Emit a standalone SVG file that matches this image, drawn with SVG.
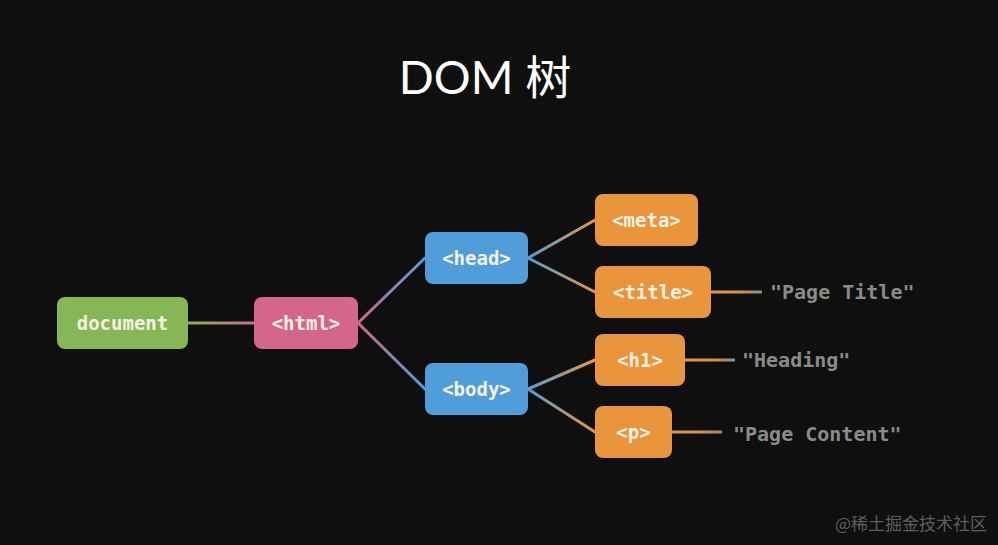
<svg xmlns="http://www.w3.org/2000/svg" width="998" height="545" viewBox="0 0 998 545">
<defs>
<style>
.g{fill:#87b657}
.p{fill:#d4668b}
.b{fill:#4f9ed9}
.o{fill:#e8953c}
.t{font-family:"DejaVu Sans Mono","Liberation Mono",monospace;font-weight:bold;font-size:19px;fill:#f6f1e3;text-anchor:middle;dominant-baseline:central}
.s{font-family:"DejaVu Sans Mono","Liberation Mono",monospace;font-weight:bold;font-size:20px;fill:#8a8a8a;dominant-baseline:central}
.c{fill:none;stroke-width:3;stroke-linecap:round}
.e{fill:none;stroke-width:3}
</style>
<linearGradient id="gp" gradientUnits="userSpaceOnUse" x1="188" y1="0" x2="254" y2="0"><stop offset="0" stop-color="#87b657"/><stop offset="1" stop-color="#d4668b"/></linearGradient>
<linearGradient id="pbh" gradientUnits="userSpaceOnUse" x1="358" y1="323" x2="425" y2="258"><stop offset="0" stop-color="#d4668b"/><stop offset="1" stop-color="#4f9ed9"/></linearGradient>
<linearGradient id="pbb" gradientUnits="userSpaceOnUse" x1="358" y1="323" x2="425" y2="389"><stop offset="0" stop-color="#d4668b"/><stop offset="1" stop-color="#4f9ed9"/></linearGradient>
<linearGradient id="bo" gradientUnits="userSpaceOnUse" x1="528" y1="0" x2="595" y2="0"><stop offset="0" stop-color="#4f9ed9"/><stop offset="1" stop-color="#e8953c"/></linearGradient>
<linearGradient id="og1" gradientUnits="userSpaceOnUse" x1="711" y1="0" x2="762" y2="0"><stop offset="0" stop-color="#e8953c"/><stop offset="0.6" stop-color="#d49048"/><stop offset="1" stop-color="#8a8a8a"/></linearGradient>
<linearGradient id="og2" gradientUnits="userSpaceOnUse" x1="685" y1="0" x2="735" y2="0"><stop offset="0" stop-color="#e8953c"/><stop offset="0.6" stop-color="#d49048"/><stop offset="1" stop-color="#8a8a8a"/></linearGradient>
<linearGradient id="og3" gradientUnits="userSpaceOnUse" x1="672" y1="0" x2="722" y2="0"><stop offset="0" stop-color="#e8953c"/><stop offset="0.6" stop-color="#d49048"/><stop offset="1" stop-color="#8a8a8a"/></linearGradient>
</defs>
<rect width="998" height="545" fill="#0f0f10"/>
<text x="485" y="94" font-family="Lato,'Noto Sans','Noto Sans CJK SC',sans-serif" font-size="46" fill="#ffffff" text-anchor="middle">DOM 树</text>
<g id="connectors">
<line class="c" x1="188" y1="323" x2="254" y2="323" stroke="url(#gp)"/>
<line class="c" x1="358" y1="323" x2="425" y2="258" stroke="url(#pbh)"/>
<line class="c" x1="358" y1="323" x2="425" y2="389" stroke="url(#pbb)"/>
<line class="c" x1="528" y1="258" x2="595" y2="220" stroke="url(#bo)"/>
<line class="c" x1="528" y1="258" x2="595" y2="292" stroke="url(#bo)"/>
<line class="c" x1="528" y1="389" x2="595" y2="360" stroke="url(#bo)"/>
<line class="c" x1="528" y1="389" x2="595" y2="432" stroke="url(#bo)"/>
<line class="e" x1="711" y1="292" x2="762" y2="292" stroke="url(#og1)"/>
<line class="e" x1="685" y1="360" x2="735" y2="360" stroke="url(#og2)"/>
<line class="e" x1="672" y1="432" x2="722" y2="432" stroke="url(#og3)"/>
</g>
<g id="document"><rect class="g" x="57" y="297" width="131" height="52" rx="8"/><text class="t" x="122.5" y="323">document</text></g>
<g id="html"><rect class="p" x="254" y="297" width="104" height="52" rx="8"/><text class="t" x="306" y="323">&lt;html&gt;</text></g>
<g id="head"><rect class="b" x="425" y="232" width="103" height="52" rx="8"/><text class="t" x="476.5" y="258">&lt;head&gt;</text></g>
<g id="body"><rect class="b" x="425" y="363" width="103" height="52" rx="8"/><text class="t" x="476.5" y="389">&lt;body&gt;</text></g>
<g id="meta"><rect class="o" x="595" y="194" width="103" height="52" rx="8"/><text class="t" x="646.5" y="220">&lt;meta&gt;</text></g>
<g id="title"><rect class="o" x="595" y="266" width="116" height="52" rx="8"/><text class="t" x="653" y="292">&lt;title&gt;</text></g>
<g id="h1"><rect class="o" x="595" y="334" width="90" height="52" rx="8"/><text class="t" x="640" y="360">&lt;h1&gt;</text></g>
<g id="p"><rect class="o" x="595" y="406" width="77" height="52" rx="8"/><text class="t" x="633.5" y="432">&lt;p&gt;</text></g>
<g id="text-page-title"><text class="s" x="770" y="292">"Page Title"</text></g>
<g id="text-heading"><text class="s" x="742" y="360">"Heading"</text></g>
<g id="text-page-content"><text class="s" x="733" y="434">"Page Content"</text></g>
<text x="987" y="530" font-family="'Noto Sans CJK SC',sans-serif" font-size="17" fill="#5e5e5e" text-anchor="end">@稀土掘金技术社区</text>
</svg>
